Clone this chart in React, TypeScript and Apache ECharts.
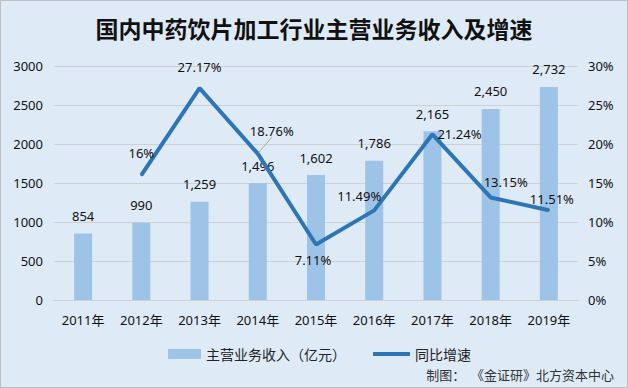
import React, { useEffect, useRef } from "react";
import * as echarts from "echarts";

const categories = ["2011年", "2012年", "2013年", "2014年", "2015年", "2016年", "2017年", "2018年", "2019年"];
const revenue = [854, 990, 1259, 1496, 1602, 1786, 2165, 2450, 2732];
const growth: (number | string)[] = ["-", 16, 27.17, 18.76, 7.11, 11.49, 21.24, 13.15, 11.51];
const growthLabels = ["", "16%", "27.17%", "18.76%", "7.11%", "11.49%", "21.24%", "13.15%", "11.51%"];
const labelOffsets: [number, number][] = [[0, 0], [0, -22], [0, -21], [14, -23], [-3, 15], [-15, -14], [27, 0], [15, -15], [3, -11]];
const leftTicks = { min: 0, max: 3000, interval: 500 };
const rightTicks = { min: 0, max: 30, interval: 5 };

const FONT = "'Noto Sans', 'Noto Sans CJK SC', sans-serif";
const CJK = "'Noto Sans CJK SC', sans-serif";

export default function App() {
  const ref = useRef<HTMLDivElement>(null);
  useEffect(() => {
    document.body.style.margin = "0";
    const chart = echarts.init(ref.current!, undefined, { renderer: "svg" });
    const lineData = growth.map((v, i) => {
      if (v === "-") return "-";
      const item: any = {
        value: v,
        label: { show: true, position: "inside", offset: labelOffsets[i], formatter: growthLabels[i] },
      };
      if (i === 3) {
        item.labelLine = { show: true, lineStyle: { color: "#a6a6a6", width: 1 } };
      }
      return item;
    });
    chart.setOption({
      animation: false,
      backgroundColor: "#deebf7",
      textStyle: { fontFamily: FONT },
      title: {
        text: "国内中药饮片加工行业主营业务收入及增速",
        left: "center",
        top: 10,
        textStyle: { fontSize: 23, fontWeight: "bold", color: "#111", fontFamily: CJK },
      },
      grid: { left: 53, right: 49, top: 65, bottom: 87 },
      legend: [
        {
          data: ["主营业务收入（亿元）"],
          left: 162,
          top: 341,
          itemWidth: 33,
          itemHeight: 10,
          icon: "rect",
          textStyle: { fontSize: 14, color: "#222", fontFamily: CJK },
        },
        {
          data: ["同比增速"],
          left: 367,
          top: 341,
          itemWidth: 37,
          itemHeight: 4,
          icon: "rect",
          textStyle: { fontSize: 14, color: "#222", fontFamily: CJK },
        },
      ],
      graphic: [
        {
          type: "text",
          right: 13,
          top: 367,
          style: { text: "制图：  《金证研》北方资本中心", fontSize: 13, fill: "#333", fontFamily: CJK },
        },
      ],
      xAxis: {
        type: "category",
        data: categories,
        axisTick: { show: false },
        axisLine: { lineStyle: { color: "#d0d0d0" } },
        axisLabel: { fontSize: 13, color: "#111", margin: 13 },
      },
      yAxis: [
        {
          type: "value",
          min: leftTicks.min,
          max: leftTicks.max,
          interval: leftTicks.interval,
          axisLine: { show: false },
          axisTick: { show: false },
          splitLine: { lineStyle: { color: "#d0d0d0" } },
          axisLabel: { fontSize: 13, color: "#111", margin: 11, formatter: (v: number) => String(v) },
        },
        {
          type: "value",
          min: rightTicks.min,
          max: rightTicks.max,
          interval: rightTicks.interval,
          axisLine: { show: false },
          axisTick: { show: false },
          splitLine: { show: false },
          axisLabel: { fontSize: 13, color: "#111", margin: 10, formatter: "{value}%" },
        },
      ],
      series: [
        {
          name: "主营业务收入（亿元）",
          type: "bar",
          data: revenue,
          barWidth: 18,
          itemStyle: { color: "#9dc3e6" },
          label: {
            show: true,
            position: "top",
            distance: 11,
            fontSize: 13,
            color: "#111",
            formatter: (p: any) => p.value.toLocaleString("en-US"),
          },
        },
        {
          name: "同比增速",
          type: "line",
          yAxisIndex: 1,
          data: lineData,
          symbol: "circle",
          symbolSize: 2,
          itemStyle: { color: "#2e75b6" },
          lineStyle: { color: "#2e75b6", width: 4 },
          label: { fontSize: 13, color: "#111" },
        },
      ],
    });
    return () => chart.dispose();
  }, []);
  return (
    <div
      style={{
        position: "absolute",
        left: 0,
        top: 0,
        width: 628,
        height: 388,
        border: "1px solid #bfbfbf",
        boxSizing: "border-box",
      }}
    >
      <div ref={ref} style={{ width: 626, height: 386 }} />
    </div>
  );
}
